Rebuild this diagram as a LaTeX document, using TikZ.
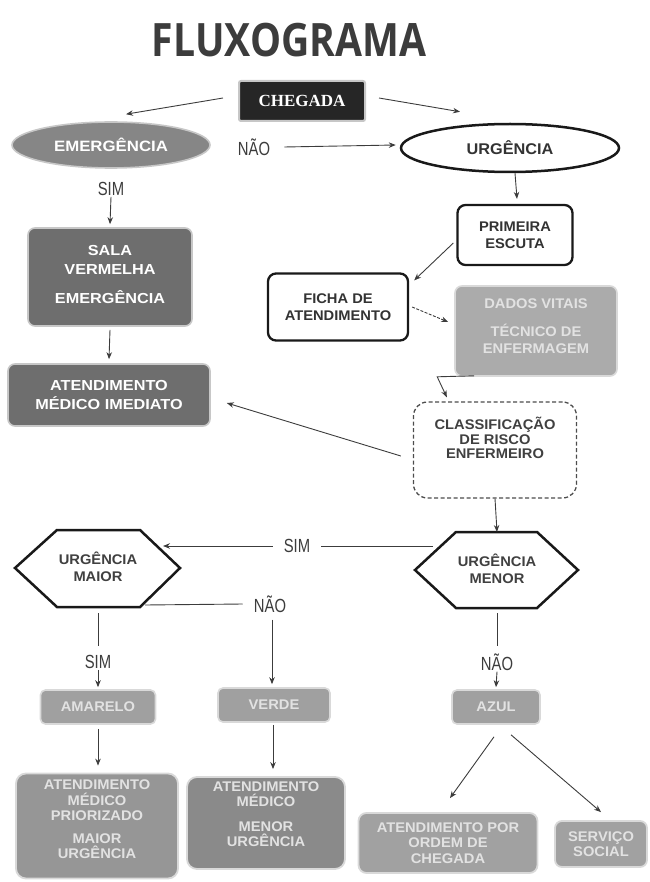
\documentclass[tikz,border=0pt]{standalone}
\usepackage{fontspec}
\setmainfont{Liberation Sans}
\newfontfamily\boxfont[FakeStretch=1.05]{Liberation Sans}
\newfontfamily\darkfont[FakeStretch=1.12]{Liberation Sans}
\newfontfamily\lblfont[FakeStretch=0.78]{Liberation Sans}
\newfontfamily\titlefont[FakeStretch=0.85]{Open Sans}
\newfontfamily\serifb{Liberation Serif}
\usetikzlibrary{arrows.meta,shapes.geometric,calc}
\definecolor{inkc}{HTML}{3C3C3C}
\definecolor{darkfill}{HTML}{6E6E6E}
\definecolor{emfill}{HTML}{868686}
\definecolor{lightfill}{HTML}{ABABAB}
\definecolor{midfill}{HTML}{A0A0A0}
\definecolor{paletext}{HTML}{E2E2E2}
\begin{document}
\begin{tikzpicture}[x=1pt,y=-1pt,
  arr/.style={draw=inkc, line width=0.9pt, -{Stealth[length=7pt,width=5.5pt]}},
  plain/.style={draw=inkc, line width=0.9pt},
  btext/.style={font=\boxfont\bfseries\fontsize{14}{17}\selectfont, align=center, inner sep=0pt},
  dtext/.style={font=\darkfont\bfseries\fontsize{14.5}{19}\selectfont, align=center, inner sep=0pt},
  darkbox/.style={dtext, rounded corners=7pt, fill=darkfill, draw=black!22, line width=1.6pt, text=white},
  lightbox/.style={btext, rounded corners=7pt, fill=lightfill, draw=black!15, line width=1.6pt, text=paletext},
  colbox/.style={btext, rounded corners=5pt, fill=midfill, draw=black!15, line width=1.6pt, text=paletext},
  botbox/.style={btext, font=\boxfont\bfseries\fontsize{14}{15.5}\selectfont, rounded corners=10pt, draw=black!15, line width=1.8pt, text=paletext},
  outbox/.style={btext, rounded corners=8pt, draw=black!90, line width=2.3pt, fill=white, text=black!80},
  hexbox/.style={btext, text=black!75},
  lbl/.style={font=\lblfont\fontsize{19}{20}\selectfont, text=inkc, inner sep=1pt}
]
\useasboundingbox (0,0) rectangle (649,882);

% title
\node (title) at (289,40) {\titlefont\bfseries\fontsize{46}{46}\selectfont\color{inkc}FLUXOGRAMA};

% top row
\node[btext, fill=black!85, draw=black!22, line width=2pt, rounded corners=2pt,
      minimum width=126pt, minimum height=40pt, text=white,
      font=\serifb\bfseries\fontsize{17}{18}\selectfont] (chegada) at (302,101) {CHEGADA};
\node[btext, ellipse, fill=emfill, draw=black!22, line width=1.6pt, text=white,
      font=\darkfont\bfseries\fontsize{15}{17}\selectfont,
      minimum width=198pt, minimum height=46pt] (emerg) at (111,145) {EMERGÊNCIA};
\node[btext, ellipse, fill=white, draw=black!90, line width=2.5pt, text=black!80,
      font=\boxfont\bfseries\fontsize{15.5}{17}\selectfont,
      minimum width=218pt, minimum height=48pt] (urg) at (510,148) {URGÊNCIA};
\node[lbl] (nao1) at (254,147) {NÃO};
\node[lbl] (sim1) at (111,189) {SIM};

% second block
\node[outbox, minimum width=115pt, minimum height=60pt] (prim) at (515,235) {PRIMEIRA\\ESCUTA};
\node[darkbox, minimum width=164pt, minimum height=98pt] (sala) at (110,277) {SALA\\VERMELHA\\[10pt]EMERGÊNCIA\\[-14pt]\mbox{}};
\node[outbox, minimum width=140pt, minimum height=67pt] (ficha) at (338,307) {FICHA DE\\ATENDIMENTO};
\node[lightbox, minimum width=162pt, minimum height=90pt] (dados) at (536,331) {DADOS VITAIS\\[11pt]TÉCNICO DE\\ENFERMAGEM\\[-8pt]\mbox{}};
\node[darkbox, minimum width=202pt, minimum height=62pt] (atimed) at (109,395) {ATENDIMENTO\\MÉDICO IMEDIATO};
\node[btext, font=\boxfont\bfseries\fontsize{14}{14.5}\selectfont,
      rounded corners=14pt, draw=black!70, line width=1.3pt, dash pattern=on 4pt off 2.5pt,
      text=black!75, minimum width=163pt, minimum height=96pt] (classif) at (495,450)
      {CLASSIFICAÇÃO\\DE RISCO\\ENFERMEIRO\\[9pt]\mbox{}};

% hexagons
\draw[draw=black!90, line width=2.5pt, fill=white, line join=miter]
  (15,568) -- (57,530) -- (140,530) -- (180,568) -- (140,607) -- (57,607) -- cycle;
\node[hexbox] (umaior) at (98,567) {URGÊNCIA\\MAIOR};
\draw[draw=black!90, line width=2.5pt, fill=white, line join=miter]
  (415,570) -- (456,532) -- (537,532) -- (578,570) -- (537,608) -- (456,608) -- cycle;
\node[hexbox] (umenor) at (497,569) {URGÊNCIA\\MENOR};
\coordinate (umenorN) at (497,532);
\coordinate (umenorS) at (497,608);
\coordinate (umenorW) at (433,546);
\coordinate (umaiorE) at (163,546);
\coordinate (umaiorS) at (98,607);
\coordinate (umaiorSE) at (145,605);

\node[lbl] (sim2) at (297,546) {SIM};
\node[lbl] (nao2) at (270,604) {NÃO};
\node[lbl] (sim3) at (98,662) {SIM};
\node[lbl] (nao3) at (497,662) {NÃO};

% colour boxes
\node[colbox, minimum width=115pt, minimum height=34pt] (amarelo) at (98,707) {AMARELO};
\node[colbox, minimum width=112pt, minimum height=34pt] (verde) at (274,705) {VERDE};
\node[colbox, minimum width=88pt, minimum height=34pt] (azul) at (496,707) {AZUL};

% bottom boxes
\node[botbox, fill=black!41, minimum width=162pt, minimum height=105pt] (prior) at (97,826)
  {ATENDIMENTO\\MÉDICO\\PRIORIZADO\\[7pt]MAIOR\\URGÊNCIA\\[-2pt]\mbox{}};
\node[botbox, fill=black!46, minimum width=158pt, minimum height=92pt] (menor) at (266,823)
  {ATENDIMENTO\\MÉDICO\\[9pt]MENOR\\URGÊNCIA\\[2pt]\mbox{}};
\node[botbox, fill=black!37, rounded corners=8pt, minimum width=179pt, minimum height=60pt] (ordem) at (448,843)
  {ATENDIMENTO POR\\ORDEM DE\\CHEGADA};
\node[botbox, fill=black!37, rounded corners=7pt, minimum width=92pt, minimum height=46pt] (social) at (601,844)
  {SERVIÇO\\SOCIAL};

% connectors
\draw[arr] ($(chegada.west)+(-15,-3)$) -- ($(emerg.north)+(15,-7)$);
\draw[arr] ($(chegada.east)+(13,-3)$) -- ($(urg.north)+(-50,-11)$);
\draw[arr] ($(nao1.east)+(13,0)$) -- ($(urg.west)+(-4,-3)$);
\draw[arr] (sim1.south) -- ($(sala.north)+(0,-3)$);
\draw[arr] ($(urg.south)+(5,0)$) -- ($(prim.north)+(2,-5)$);
\draw[arr] ($(prim.west)+(-3,8)$) -- ($(ficha.north east)+(5,8)$);
\draw[arr, dash pattern=on 3pt off 1.5pt] ($(ficha.east)+(3,0)$) -- ($(dados.west)+(-6,-9)$);
\draw[arr] ($(sala.south)+(0,3)$) -- ($(atimed.north)+(0,-4)$);
\draw[arr] ($(dados.south west)+(20,-1)$) -- ++(-37,1) -- ($(classif.north west)+(34,-4)$);
\draw[arr] ($(classif.west)+(-12,6)$) -- ($(atimed.east)+(16,8)$);
\draw[arr] (classif.south) -- (umenorN);
\draw[plain] (umenorW) -- ($(sim2.east)+(10,0)$);
\draw[arr] ($(sim2.west)+(-10,0)$) -- (umaiorE);
\draw[plain] (umaiorSE) -- ($(nao2.west)+(-10,0)$);
\draw[arr] ($(nao2.south)+(2,6)$) -- ($(verde.north)+(-2,-3)$);
\draw[plain] ($(umaiorS)+(0,6)$) -- ($(sim3.north)+(0,-8)$);
\draw[arr] (sim3.south) -- ($(amarelo.north)+(0,-2)$);
\draw[plain] ($(umenorS)+(0,5)$) -- ($(nao3.north)+(0,-6)$);
\draw[arr] (nao3.south) -- ($(azul.north)+(0,-2)$);
\draw[arr] ($(amarelo.south)+(0,4)$) -- ($(prior.north)+(1,-7)$);
\draw[arr] ($(verde.south)+(-1,2)$) -- ($(menor.north)+(7,-7)$);
\draw[arr] ($(azul.south)+(-2,12)$) -- ($(ordem.north)+(2,-14)$);
\draw[arr] ($(azul.south)+(15,10)$) -- ($(social.north)+(0,-8)$);
\end{tikzpicture}
\end{document}
